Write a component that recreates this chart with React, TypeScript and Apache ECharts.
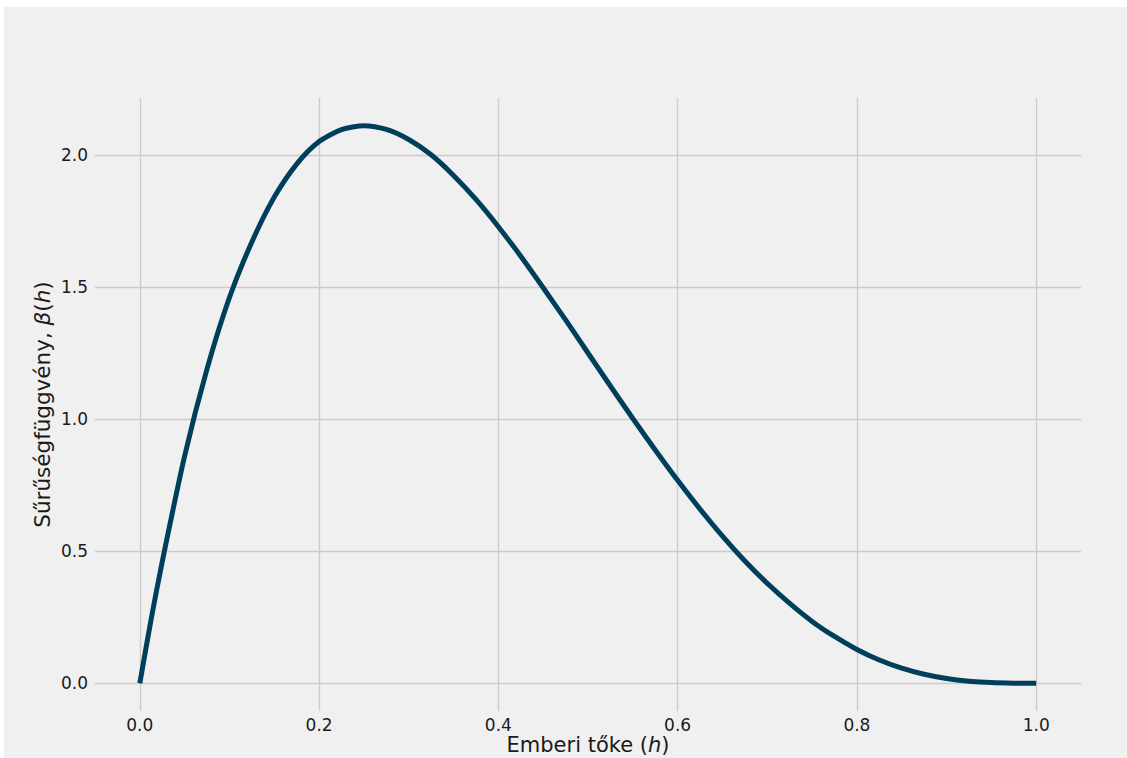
import React, { useEffect, useRef } from "react";
import * as echarts from "echarts";

const hValues = [
  0, 0.0125, 0.025, 0.05, 0.075, 0.1, 0.125, 0.15, 0.175, 0.2, 0.225, 0.25, 0.275, 0.3, 0.325, 0.35, 0.375,
  0.4, 0.425, 0.45, 0.475, 0.5, 0.525, 0.55, 0.575, 0.6, 0.625, 0.65, 0.675, 0.7, 0.725, 0.75, 0.775,
  0.8, 0.825, 0.85, 0.875, 0.9, 0.925, 0.95, 0.975, 1.0,
];
const densityValues = [
  0, 0.24, 0.46, 0.86, 1.19, 1.46, 1.67, 1.84, 1.965, 2.05, 2.095, 2.11, 2.096, 2.058, 2.0, 1.922, 1.831,
  1.728, 1.616, 1.497, 1.375, 1.25, 1.125, 1.002, 0.883, 0.768, 0.659, 0.557, 0.463, 0.378, 0.302, 0.234, 0.177,
  0.128, 0.088, 0.057, 0.034, 0.018, 0.008, 0.0024, 0.0003, 0,
];
const xTicks = [0, 0.2, 0.4, 0.6, 0.8, 1.0];
const yTicks = [0, 0.5, 1.0, 1.5, 2.0];

export default function App() {
  const ref = useRef<HTMLDivElement>(null);
  useEffect(() => {
    if (!ref.current) return;
    const chart = echarts.init(ref.current, null, { renderer: "svg" });
    const font = "DejaVu Sans";
    const txt = "#1a1a1a";
    chart.setOption({
      animation: false,
      backgroundColor: "#f0f0f0",
      textStyle: { fontFamily: font },
      grid: { left: 91, right: 46, top: 91, bottom: 47, outerBoundsMode: "none", containLabel: false },
      xAxis: {
        type: "value",
        min: -0.05,
        max: 1.05,
        axisLine: { show: false },
        axisTick: { show: false, customValues: xTicks },
        axisLabel: {
          customValues: xTicks,
          formatter: (v: number) => v.toFixed(1),
          fontSize: 17,
          color: txt,
          fontFamily: font,
          margin: 5,
        },
        splitLine: { show: true, lineStyle: { color: "#cbcbcb", width: 1.3 } },
        name: "{n|Emberi tőke (}{i|h}{n|)}",
        nameLocation: "middle",
        nameGap: 23,
        nameMoveOverlap: false,
        nameTextStyle: {
          lineHeight: 21,
          rich: {
            n: { fontSize: 21, lineHeight: 21, fontFamily: font, color: txt },
            i: { fontSize: 21, lineHeight: 21, fontFamily: font, fontStyle: "italic", color: txt },
          },
        },
      },
      yAxis: {
        type: "value",
        min: -0.105,
        max: 2.215,
        axisLine: { show: false },
        axisTick: { show: false, customValues: yTicks },
        axisLabel: {
          customValues: yTicks,
          formatter: (v: number) => v.toFixed(1),
          fontSize: 17,
          color: txt,
          fontFamily: font,
          margin: 7,
        },
        splitLine: { show: true, lineStyle: { color: "#cbcbcb", width: 1.3 } },
        name: "{n|Sűrűségfüggvény, }{i|β}{n|(}{i|h}{n|)}",
        nameLocation: "middle",
        nameGap: 42,
        nameMoveOverlap: false,
        nameRotate: 90,
        nameTextStyle: {
          rich: {
            n: { fontSize: 21.5, fontFamily: font, color: txt },
            i: { fontSize: 21.5, fontFamily: font, fontStyle: "italic", color: txt },
          },
        },
      },
      series: [
        {
          type: "line",
          data: hValues.map((h, i) => [h, densityValues[i]]),
          smooth: 0.25,
          showSymbol: false,
          lineStyle: { color: "#003f5c", width: 5 },
        },
      ],
    });
    return () => chart.dispose();
  }, []);
  return (
    <div
      ref={ref}
      style={{ position: "fixed", left: 4, top: 7, width: 1123, height: 751 }}
    />
  );
}
